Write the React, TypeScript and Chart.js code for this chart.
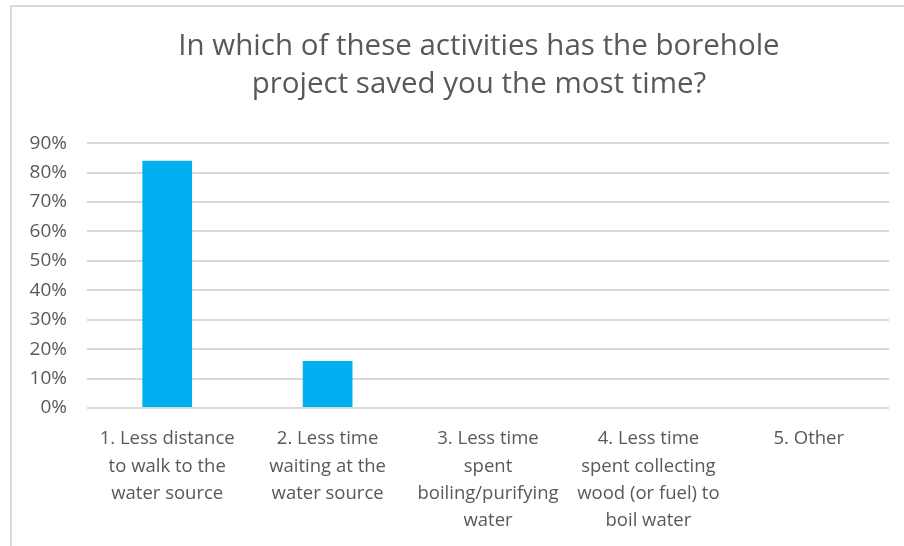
import React, { useEffect, useRef } from "react";
import { Chart, registerables } from "chart.js";

Chart.register(...registerables);

const titleLines = [
  "In which of these activities has the borehole",
  "project saved you the most time?",
];

const categories: string[][] = [
  ["1. Less distance", "to walk to the", "water source"],
  ["2. Less time", "waiting at the", "water source"],
  ["3. Less time", "spent", "boiling/purifying", "water"],
  ["4. Less time", "spent collecting", "wood (or fuel) to", "boil water"],
  ["5. Other"],
];

const percentValues = [84, 16, 0, 0, 0];

const yTickMax = 90;
const yTickStep = 10;

const FONT = "'Open Sans', Lato, sans-serif";
const TEXT = "#595959";
const GRID = "#d9d9d9";
const BAR = "#00B0F0";

const titleCenterPlugin = {
  id: "titleCenter",
  afterLayout(chart: any) {
    const t = chart.titleBlock;
    if (t) {
      t.left = 54;
      t.right = 904;
      t.width = 850;
    }
  },
};

export default function App() {
  const canvasRef = useRef<HTMLCanvasElement | null>(null);

  useEffect(() => {
    document.body.style.margin = "0";
    const canvas = canvasRef.current;
    if (!canvas) return;
    const chart = new Chart(canvas, {
      type: "bar",
      data: {
        labels: categories,
        datasets: [
          {
            data: percentValues,
            backgroundColor: BAR,
            borderWidth: 0,
            barPercentage: 0.31,
            categoryPercentage: 1.0,
          },
        ],
      },
      options: {
        animation: false,
        responsive: false,
        maintainAspectRatio: false,
        devicePixelRatio: 1,
        layout: {
          padding: { top: 28, left: 15, right: 15, bottom: 0 },
        },
        plugins: {
          legend: { display: false },
          tooltip: { enabled: false },
          title: {
            display: true,
            text: titleLines,
            color: TEXT,
            font: { family: FONT, size: 29.5, weight: "normal", lineHeight: 1.29 },
            padding: { top: 0, bottom: 39 },
          },
        },
        scales: {
          x: {
            grid: { display: false, drawTicks: false },
            border: { display: false },
            ticks: {
              color: TEXT,
              font: { family: FONT, size: 18.5, lineHeight: 1.486 },
              padding: 17,
              maxRotation: 0,
              autoSkip: false,
            },
            afterFit: (scale: any) => {
              scale.height = 138;
            },
          },
          y: {
            min: 0,
            max: yTickMax,
            grid: { color: GRID, lineWidth: 2, drawTicks: false },
            border: { display: false },
            ticks: {
              stepSize: yTickStep,
              color: TEXT,
              font: { family: FONT, size: 19 },
              padding: 20,
              callback: (v: any) => `${v}%`,
            },
            afterFit: (scale: any) => {
              scale.width = 72;
            },
          },
        },
      },
      plugins: [titleCenterPlugin],
    });
    return () => chart.destroy();
  }, []);

  return (
    <div style={{ position: "fixed", left: 0, top: 0, width: 904, height: 546, background: "#fff" }}>
      <div
        style={{
          position: "absolute",
          left: 10,
          top: 5,
          width: 900,
          height: 546,
          borderTop: `2px solid ${GRID}`,
          borderLeft: `2px solid ${GRID}`,
        }}
      />
      <canvas
        ref={canvasRef}
        width={904}
        height={546}
        style={{ position: "absolute", left: 0, top: 0, width: 904, height: 546 }}
      />
    </div>
  );
}
